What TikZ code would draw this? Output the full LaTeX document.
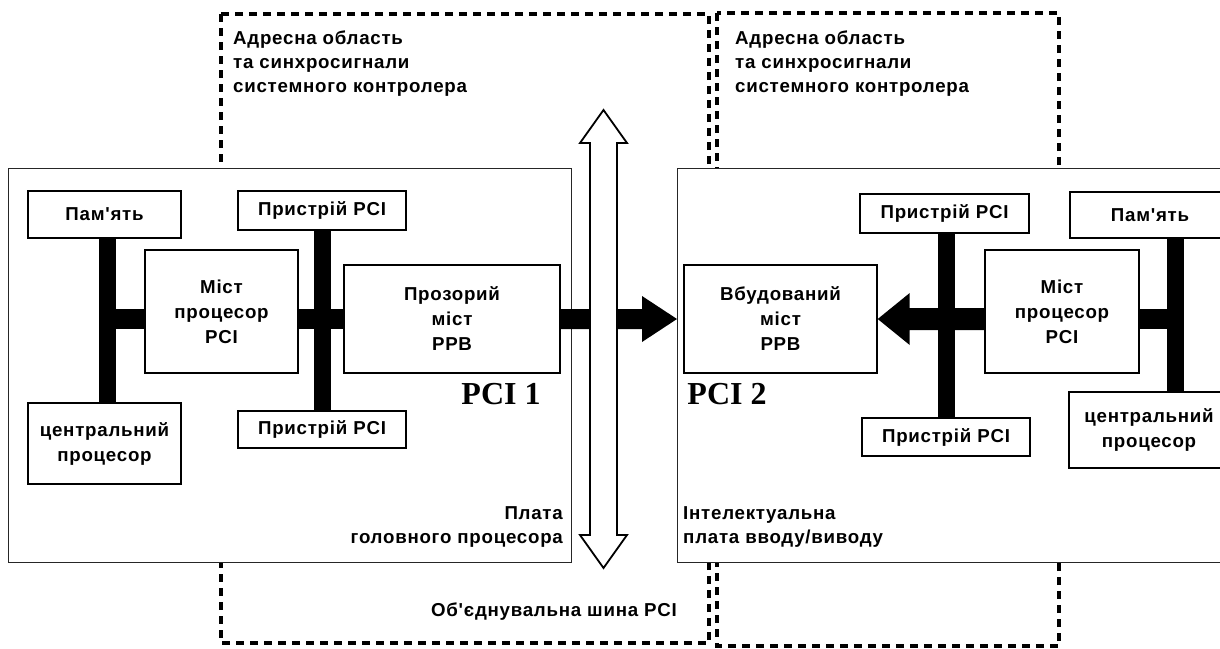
\documentclass[tikz,border=0pt]{standalone}
\usepackage{fontspec}
\newfontfamily\lab{Liberation Sans}[LetterSpace=4]
\newfontfamily\pcifont{Liberation Serif}
\usetikzlibrary{calc}
\begin{document}
\begin{tikzpicture}[x=1pt,y=-1pt,
  dashbox/.style={line width=3.2pt, dash pattern=on 8pt off 6pt},
  board/.style={draw=black!85, line width=1.3pt, fill=white, inner sep=0pt},
  blk/.style={draw, line width=1.4pt, fill=white, align=center, inner sep=0pt, font=\lab\bfseries\fontsize{18.7}{25}\selectfont},
  lbl/.style={inner sep=0pt, font=\lab\bfseries\fontsize{18.7}{24}\selectfont},
  bigl/.style={inner sep=0pt, font=\pcifont\bfseries\fontsize{32}{36}\selectfont},
  vbus/.style={line width=17pt},
  hbus/.style={line width=20pt},
  hollow/.style={draw, fill=white, line width=1.8pt, line join=miter}
]
\useasboundingbox (0,0) rectangle (1220,648);
\clip (0,0) rectangle (1220,648);
\fill[white] (0,0) rectangle (1220,648);

% dashed areas
\draw[dashbox] (221,14) rectangle (709,643);
\draw[dashbox] (717,13) rectangle (1059,646);

% boards
\node[board, anchor=north west, minimum width=563pt, minimum height=394pt] (board1) at (8,168) {};
\node[board, anchor=north west, minimum width=570pt, minimum height=394pt] (board2) at (677,168) {};

% left board blocks
\node[blk, minimum width=153pt, minimum height=47pt] (mem1) at (104.5,214.5) {Пам'ять};
\node[blk, minimum width=168pt, minimum height=39pt] (dev1t) at (322,210.5) {Пристрій PCI};
\node[blk, minimum width=153pt, minimum height=123pt] (br1) at (221.5,311.5) {Міст\\процесор\\PCI};
\node[blk, minimum width=216pt, minimum height=108pt] (ppb1) at (452,319) {Прозорий\\міст\\PPB};
\node[blk, minimum width=168pt, minimum height=37pt] (dev1b) at (322,429.5) {Пристрій PCI};
\node[blk, minimum width=153pt, minimum height=81pt] (cpu1) at (104.5,443.5) {центральний\\процесор};

% right board blocks
\node[blk, minimum width=169pt, minimum height=39pt] (dev2t) at (944.5,213.5) {Пристрій PCI};
\node[blk, minimum width=154pt, minimum height=123pt] (br2) at (1062,311.5) {Міст\\процесор\\PCI};
\node[blk, minimum width=193pt, minimum height=108pt] (ppb2) at (780.5,319) {Вбудований\\міст\\PPB};
\node[blk, minimum width=160pt, minimum height=46pt] (mem2) at (1150,215) {Пам'ять};
\node[blk, minimum width=160pt, minimum height=76pt] (cpu2) at (1149,430) {центральний\\процесор};
\node[blk, minimum width=168pt, minimum height=38pt] (dev2b) at (946,437) {Пристрій PCI};

% left buses
\draw[vbus] ([xshift=3pt]mem1.south) -- ([xshift=3pt]cpu1.north);
\draw[hbus] ([xshift=3pt]mem1.south |- ppb1.west) -- (br1.west |- ppb1.west);
\draw[hbus] (br1.east |- ppb1.west) -- (ppb1.west);
\draw[vbus] (dev1t.south) -- (dev1b.north);
\coordinate (tip1) at (board2.west |- ppb1.east);
\fill ([yshift=10pt]ppb1.east) -- ([xshift=-35pt,yshift=10pt]tip1) -- ([xshift=-35pt,yshift=23pt]tip1) -- (tip1)
  -- ([xshift=-35pt,yshift=-23pt]tip1) -- ([xshift=-35pt,yshift=-10pt]tip1) -- ([yshift=-10pt]ppb1.east) -- cycle;

% right buses
\draw[vbus] (dev2t.south -| dev2b.north) -- (dev2b.north);
\draw[vbus] ([xshift=25pt]mem2.south) -- ([xshift=26pt]cpu2.north);
\draw[hbus] (br2.east |- ppb2.east) -- ([xshift=25pt]mem2.south |- ppb2.east);
\fill (ppb2.east) -- ([xshift=32pt,yshift=26pt]ppb2.east) -- ([xshift=32pt,yshift=11pt]ppb2.east)
  -- ([yshift=11pt]br2.west |- ppb2.east) -- ([yshift=-11pt]br2.west |- ppb2.east)
  -- ([xshift=32pt,yshift=-11pt]ppb2.east) -- ([xshift=32pt,yshift=-26pt]ppb2.east) -- cycle;

% hollow PCI bus arrow
\coordinate (bt) at (603.5,110);
\coordinate (bb) at (603.5,568);
\draw[hollow] (bt) -- ([xshift=23.5pt,yshift=-33pt]bt) -- ([xshift=13.5pt,yshift=-33pt]bt)
  -- ([xshift=13.5pt,yshift=33pt]bb) -- ([xshift=23.5pt,yshift=33pt]bb) -- (bb)
  -- ([xshift=-23.5pt,yshift=33pt]bb) -- ([xshift=-13.5pt,yshift=33pt]bb)
  -- ([xshift=-13.5pt,yshift=-33pt]bt) -- ([xshift=-23.5pt,yshift=-33pt]bt) -- cycle;

% labels
\node[lbl, align=left, anchor=north west] (addr1) at (233,31) {Адресна область\\та синхросигнали\\системного контролера};
\node[lbl, align=left, anchor=north west] (addr2) at (735,31) {Адресна область\\та синхросигнали\\системного контролера};
\node[lbl, align=right, anchor=south east] (pl1) at (563,548) {Плата\\головного процесора};
\node[lbl, align=left, anchor=south west] (pl2) at (683,548) {Інтелектуальна\\плата вводу/виводу};
\node[lbl] (busl) at (554,612) {Об'єднувальна шина PCI};
\node[bigl] (pci1) at (501,394) {PCI 1};
\node[bigl] (pci2) at (727,394) {PCI 2};
\end{tikzpicture}
\end{document}
